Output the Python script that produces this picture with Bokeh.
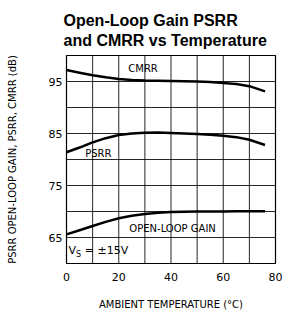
from bokeh.plotting import figure
from bokeh.models import Range1d, FixedTicker, Label, Span, Title
from bokeh.embed import file_html
from bokeh.resources import INLINE

# Data
temp = [0, 5, 10, 15, 20, 25, 30, 35, 40, 45, 50, 55, 60, 65, 70, 76]
cmrr = [97.2, 96.7, 96.2, 95.8, 95.5, 95.3, 95.2, 95.15, 95.1, 95.05, 95.0, 94.9, 94.7, 94.5, 94.1, 93.1]
psrr = [81.4, 82.3, 83.3, 84.1, 84.7, 85.0, 85.15, 85.2, 85.1, 85.0, 84.9, 84.75, 84.55, 84.3, 83.8, 82.8]
olg = [65.6, 66.4, 67.2, 68.0, 68.7, 69.2, 69.5, 69.75, 69.9, 69.95, 70.0, 70.0, 70.0, 70.05, 70.05, 70.05]

x_ticks = [0, 20, 40, 60, 80]
y_ticks = [65, 75, 85, 95]
x_grid = [10, 20, 30, 40, 50, 60, 70]
y_grid = [65, 70, 75, 80, 85, 90, 95]

FONT = "DejaVu Sans"

p = figure(width=283, height=314, output_backend="svg", toolbar_location=None,
           x_range=Range1d(0, 80), y_range=Range1d(60, 100),
           min_border_left=66, min_border_right=8, min_border_top=55, min_border_bottom=51)

p.background_fill_color = "white"
p.border_fill_color = "white"
p.outline_line_color = "black"
p.outline_line_width = 1.2
p.grid.visible = False

for v in x_grid:
    p.add_layout(Span(location=v, dimension="height", line_color="black",
                      line_width=1, line_alpha=0.85, level="underlay"))
for v in y_grid:
    p.add_layout(Span(location=v, dimension="width", line_color="black",
                      line_width=1, line_alpha=0.85, level="underlay"))

p.xaxis.ticker = FixedTicker(ticks=x_ticks)
p.yaxis.ticker = FixedTicker(ticks=y_ticks)

for ax in (p.xaxis, p.yaxis):
    ax.axis_line_color = None
    ax.major_tick_line_color = None
    ax.minor_tick_line_color = None
    ax.major_tick_out = 0
    ax.major_tick_in = 0
    ax.minor_tick_out = 0
    ax.minor_tick_in = 0
    ax.major_label_text_font = FONT
    ax.major_label_text_font_size = "11px"
    ax.major_label_text_color = "black"
    ax.axis_label_text_font = FONT
    ax.axis_label_text_font_size = "10px"
    ax.axis_label_text_font_style = "normal"
    ax.axis_label_text_color = "black"

p.xaxis.major_label_standoff = 9
p.yaxis.major_label_standoff = 4
p.xaxis.axis_label = "AMBIENT TEMPERATURE (°C)"
p.yaxis.axis_label = "PSRR OPEN-LOOP GAIN, PSRR, CMRR (dB)"
p.xaxis.axis_label_standoff = 15
p.yaxis.axis_label_standoff = 28

p.line(temp, cmrr, line_color="black", line_width=2.5)
p.line(temp, psrr, line_color="black", line_width=2.5)
p.line(temp, olg, line_color="black", line_width=2.5)

def lab(x, y, t, size="10px", align="center"):
    p.add_layout(Label(x=x, y=y, text=t, text_align=align, text_baseline="middle",
                       text_font=FONT, text_font_size=size, text_color="black"))

lab(29.3, 97.55, "CMRR")
lab(12.2, 81.25, "PSRR")
lab(40.6, 66.8, "OPEN-LOOP GAIN")
lab(0.8, 62.5, "V", size="11px", align="left")
lab(3.6, 61.8, "S", size="8px", align="left")
lab(7.0, 62.5, "= ±15V", size="11px", align="left")

p.title = Title(text="Open-Loop Gain PSRR\nand CMRR vs Temperature", align="left",
                vertical_align="bottom", offset=-3, standoff=14,
                text_line_height=1.125,
                text_font="Liberation Sans", text_font_size="16px", text_font_style="bold",
                text_color="black")

open("out.html", "w").write(file_html(p, INLINE))
